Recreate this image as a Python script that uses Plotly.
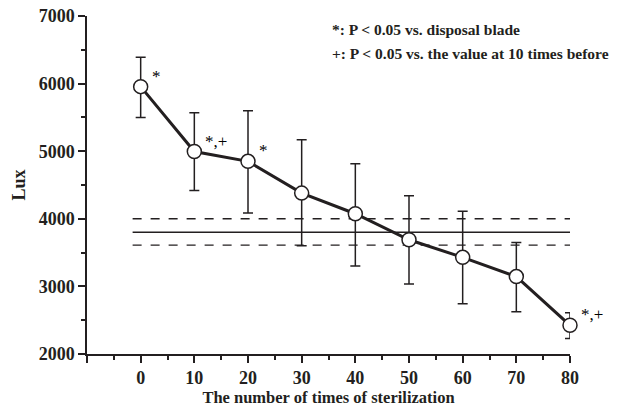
import plotly.graph_objects as go

# Data
times = [0, 10, 20, 30, 40, 50, 60, 70, 80]
lux = [5955, 4995, 4850, 4380, 4075, 3690, 3430, 3145, 2425]
upper = [6390, 5570, 5600, 5170, 4815, 4340, 4110, 3650, 2610]
lower = [5500, 4420, 4085, 3600, 3300, 3035, 2745, 2625, 2230]
ref_mean = 3800
ref_upper = 4000
ref_lower = 3610
ref_x_start = -1.5
sig_x = [0, 10, 20, 80]
sig_y = [5955, 4995, 4850, 2425]
sig_text = ["*", "*,+", "*", "*,+"]
legend_lines = ["*: P < 0.05 vs. disposal blade", "+: P < 0.05 vs. the value at 10 times before"]
y_ticks = [2000, 3000, 4000, 5000, 6000, 7000]

err_plus = [u - v for u, v in zip(upper, lux)]
err_minus = [v - l for v, l in zip(lux, lower)]

FONT = "Liberation Serif"
INK = "#231f20"

W, H = 628, 408
ml, mr, mt, mb = 87, 58, 16, 54
pw, ph = W - ml - mr, H - mt - mb

fig = go.Figure()

x_end = times[-1]
for yv, dash in [(ref_upper, "dash"), (ref_mean, "solid"), (ref_lower, "dash")]:
    fig.add_shape(type="line", xref="x", yref="y", x0=ref_x_start, x1=x_end, y0=yv, y1=yv,
                  line=dict(color=INK, width=1.4, dash=dash), layer="below")

fig.add_trace(go.Scatter(
    x=times, y=lux, mode="lines+markers",
    line=dict(color=INK, width=3),
    marker=dict(size=14, color="white", line=dict(color=INK, width=1.5)),
    error_y=dict(type="data", symmetric=False, array=err_plus, arrayminus=err_minus,
                 color=INK, thickness=1.5, width=5),
    cliponaxis=False, showlegend=False, hoverinfo="skip",
))

for x, y, t in zip(sig_x, sig_y, sig_text):
    fig.add_annotation(x=x, y=y, text=t, showarrow=False, xref="x", yref="y",
                       xanchor="left", yanchor="bottom", xshift=9, yshift=-1,
                       font=dict(family=FONT, size=17, color="black"))

for i, t in enumerate(legend_lines):
    ypix = 30 + i * 23  # from top of figure
    fig.add_annotation(x=(330 - ml) / pw, y=1 - (ypix - mt) / ph, xref="paper", yref="paper",
                       text="<b>" + t + "</b>",
                       showarrow=False, xanchor="left", yanchor="middle",
                       font=dict(family=FONT, size=15.5, color=INK))

fig.update_layout(
    width=W, height=H,
    margin=dict(l=ml, r=mr, t=mt, b=mb, autoexpand=False),
    plot_bgcolor="white", paper_bgcolor="white",
    font=dict(family=FONT, color=INK),
)

fig.update_xaxes(
    range=[-10, 80], automargin=False, ticklabeloverflow="allow",
    tickmode="array",
    tickvals=[-10] + times,
    ticktext=[""] + ["<b>%d</b>" % t for t in times],
    ticks="outside", ticklen=7, tickwidth=1.5, tickcolor=INK,
    minor=dict(dtick=5, tick0=0, ticks="outside", ticklen=4, tickwidth=1.5, tickcolor=INK),
    showline=True, linecolor=INK, linewidth=1.5,
    showgrid=False, zeroline=False,
    tickfont=dict(family=FONT, size=18, color=INK),
    title=dict(text="<b>The number of times of sterilization</b>",
               font=dict(family=FONT, size=16.5, color=INK), standoff=2),
)
fig.update_yaxes(
    range=[2000, 7000], automargin=False, ticklabeloverflow="allow",
    tickmode="array", tickvals=y_ticks, ticktext=["<b>%d</b>" % v for v in y_ticks],
    ticks="outside", ticklen=7, tickwidth=1.5, tickcolor=INK,
    minor=dict(dtick=500, ticks="outside", ticklen=4, tickwidth=1.5, tickcolor=INK),
    showline=True, linecolor=INK, linewidth=1.5,
    showgrid=False, zeroline=False,
    tickfont=dict(family=FONT, size=18, color=INK),
    title=dict(text="<b>Lux</b>", font=dict(family=FONT, size=18, color=INK), standoff=8),
)

fig.write_html("out.html", config={"displayModeBar": False},
               post_script="document.body.style.margin='0';")
